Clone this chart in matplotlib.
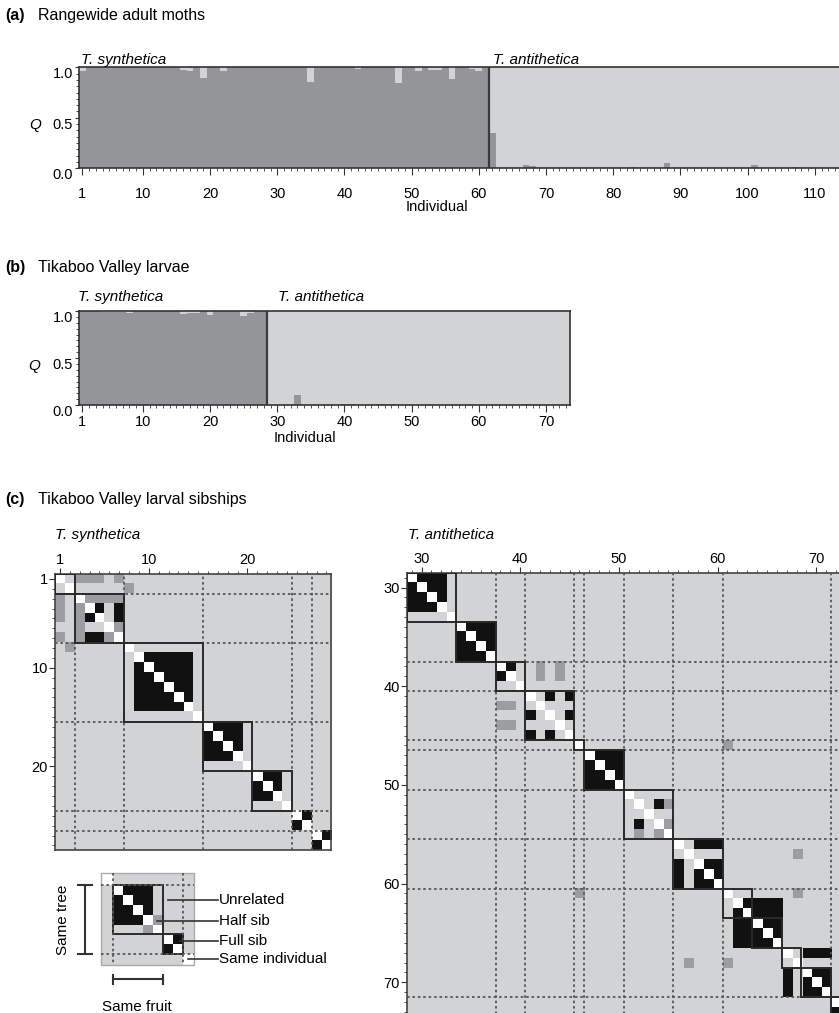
import numpy as np
import matplotlib.pyplot as plt
from matplotlib.colors import ListedColormap
from matplotlib.patches import Rectangle
from matplotlib.ticker import MultipleLocator

W, H = 839, 1013
plt.rcParams['font.family'] = ['Liberation Sans', 'DejaVu Sans']

DARK = '#949598'
LIGHT = '#d2d3d5'
HALF = '#9c9da0'
FULL = '#111111'
SPINE = '#333333'

# (a) rangewide adult moths, Q = share of the T. synthetica cluster
adult_n = 115
adult_split = 61
adult_ids = [1, 16, 17, 19, 22, 35, 42, 48, 51, 53, 54, 56, 59, 60,
             62, 67, 68, 83, 88, 101, 107]
adult_q = [0.96, 0.97, 0.96, 0.89, 0.96, 0.85, 0.98, 0.84, 0.96, 0.97, 0.97, 0.88, 0.98, 0.96,
           0.35, 0.03, 0.02, 0.015, 0.05, 0.03, 0.015]
adult_ticks = [1, 10, 20, 30, 40, 50, 60, 70, 80, 90, 100, 110]

# (b) Tikaboo Valley larvae
larva_n = 73
larva_split = 28
larva_ids = [4, 5, 6, 7, 8, 16, 17, 18, 20, 25, 26, 33, 40, 41, 45, 46, 47, 67]
larva_q = [0.99, 0.99, 0.99, 0.99, 0.975, 0.97, 0.975, 0.975, 0.96, 0.95, 0.98,
           0.11, 0.01, 0.01, 0.01, 0.01, 0.01, 0.01]
larva_ticks = [1, 10, 20, 30, 40, 50, 60, 70]

# (c) sibships: 0 unrelated, 1 half sib, 2 full sib, 3 same individual
syn_range = (1, 28)
syn_full = [[4, 5, 7], [9, 10, 11, 12, 13, 14], [16, 17, 18, 19], [21, 22, 23], [25, 26], [27, 28]]
syn_half = [(1, 3), (1, 4), (1, 5), (1, 7), (2, 8), (3, 4), (3, 5), (3, 6), (3, 7), (6, 7)]
syn_trees = [2, 7, 15, 24, 26]
syn_fruits = [(1, 2), (3, 7), (8, 15), (16, 20), (21, 24)]
syn_ticks = [1, 10, 20]

ant_range = (29, 73)
ant_full = [[29, 30, 31, 32], [34, 35, 36, 37], [38, 39], [41, 43, 45], [47, 48, 49, 50],
            [52, 54], [56, 58, 59, 60], [62, 63, 64, 65, 66], [67, 69, 70, 71], [72, 73]]
ant_half = [(38, 42), (39, 42), (38, 44), (39, 44), (52, 55), (54, 55), (46, 61), (57, 68), (61, 68)]
ant_trees = [37, 40, 45, 46, 50, 55, 60, 71]
ant_fruits = [(29, 33), (34, 37), (38, 40), (41, 45), (46, 46), (47, 50), (51, 55), (56, 60),
              (61, 63), (64, 66), (67, 68), (69, 71), (72, 73)]
ant_ticks = [30, 40, 50, 60, 70]

# legend schematic
leg_size = 9
leg_full = [[1, 2, 3, 4], [6, 7]]
leg_half = [(4, 5)]
leg_trees = [0, 7]
leg_fruits = [(1, 5), (6, 7)]
leg_edges_x = [101, 113.3, 123.2, 133.1, 143.0, 152.9, 162.7, 172.7, 182.7, 194.3]
leg_edges_y = [872.7, 885, 894.9, 904.8, 914.7, 924.6, 934.3, 944.3, 954.3, 965]
leg_labels = ['Unrelated', 'Half sib', 'Full sib', 'Same individual']

fig = plt.figure(figsize=(W / 100, H / 100), dpi=100)


def px_axes(x0, y0, x1, y1):
    return fig.add_axes([x0 / W, 1 - y1 / H, (x1 - x0) / W, (y1 - y0) / H])


def relmatrix(first, last, full, half):
    n = last - first + 1
    m = np.zeros((n, n))
    for g in full:
        for a in g:
            for b in g:
                m[a - first, b - first] = 2
    for a, b in half:
        m[a - first, b - first] = 1
        m[b - first, a - first] = 1
    np.fill_diagonal(m, 3)
    return m


cmap = ListedColormap([LIGHT, HALF, FULL, 'white'])


def structure(ax, n, split, ids, q, ticks, xpad):
    ind = np.arange(1, n + 1)
    qq = np.where(ind <= split, 1.0, 0.0)
    for i, v in zip(ids, q):
        qq[i - 1] = v
    ax.bar(ind, qq, width=1.0, color=DARK, lw=0)
    ax.bar(ind, 1 - qq, bottom=qq, width=1.0, color=LIGHT, lw=0)
    ax.axvline(split + 0.5, color='#3a3a3a', lw=1.6)
    ax.set_xlim(0.5, n + 0.5)
    ax.set_ylim(0, 1)
    ax.set_xticks(ticks)
    ax.xaxis.set_minor_locator(MultipleLocator(1))
    ax.set_yticks([0, 0.5, 1.0])
    ax.set_yticklabels(['0.0', '0.5', '1.0'])
    ax.yaxis.set_minor_locator(MultipleLocator(0.0625))
    ax.tick_params(which='both', direction='out', labelsize=10.5, color='#333333')
    ax.tick_params(axis='x', which='major', length=5, pad=xpad)
    ax.tick_params(axis='x', which='minor', length=2.5)
    ax.tick_params(axis='y', which='major', length=3, pad=1.5)
    ax.tick_params(axis='y', which='minor', length=2.5)
    for lab in ax.get_yticklabels():
        lab.set_verticalalignment('top')
    for s in ax.spines.values():
        s.set_color(SPINE)
        s.set_linewidth(1.2)


def sibmatrix(ax, rng, full, half, trees, fruits, ticks):
    first, last = rng
    m = relmatrix(first, last, full, half)
    ax.imshow(m, cmap=cmap, vmin=-0.5, vmax=3.5, interpolation='nearest', aspect='auto',
              extent=(first - 0.5, last + 0.5, last + 0.5, first - 0.5))
    for t in trees:
        ax.axvline(t + 0.5, color='#555555', lw=1.3, ls=(0, (1.4, 1.6)), zorder=3)
        ax.axhline(t + 0.5, color='#555555', lw=1.3, ls=(0, (1.4, 1.6)), zorder=3)
    for a, b in fruits:
        ax.add_patch(Rectangle((a - 0.5, a - 0.5), b - a + 1, b - a + 1, fill=False,
                               ec='#2a2a2a', lw=1.4, zorder=4))
    ax.set_xlim(first - 0.5, last + 0.5)
    ax.set_ylim(last + 0.5, first - 0.5)
    ax.xaxis.tick_top()
    ax.set_xticks(ticks)
    ax.set_yticks(ticks)
    ax.xaxis.set_minor_locator(MultipleLocator(1))
    ax.yaxis.set_minor_locator(MultipleLocator(1))
    ax.tick_params(which='both', direction='out', labelsize=10.5, color='#333333', pad=1)
    ax.tick_params(which='major', length=4)
    ax.tick_params(which='minor', length=2.5)
    for s in ax.spines.values():
        s.set_color('#444444')
        s.set_linewidth(1.2)


# panel (a)
ax_a = px_axes(79, 67.3, 79 + adult_n * 6.72, 168.3)
structure(ax_a, adult_n, adult_split, adult_ids, adult_q, adult_ticks, 8.5)

# panel (b)
ax_b = px_axes(79, 311, 79 + larva_n * 6.72, 405)
structure(ax_b, larva_n, larva_split, larva_ids, larva_q, larva_ticks, 2.5)

# panel (c)
cell = 9.87
ax_s = px_axes(55, 574, 55 + 28 * cell, 574 + 28 * cell)
sibmatrix(ax_s, syn_range, syn_full, syn_half, syn_trees, syn_fruits, syn_ticks)
ax_t = px_axes(406.7, 572.7, 406.7 + 45 * cell, 572.7 + 45 * cell)
sibmatrix(ax_t, ant_range, ant_full, ant_half, ant_trees, ant_fruits, ant_ticks)

# overlay in pixel coordinates for text and the legend schematic
ov = fig.add_axes([0, 0, 1, 1])
ov.set_xlim(0, W)
ov.set_ylim(H, 0)
ov.axis('off')

ov.text(5, 15, '(a)', fontsize=11.5, fontweight='bold', va='center')
ov.text(38, 15, 'Rangewide adult moths', fontsize=11.5, va='center')
ov.text(5, 267, '(b)', fontsize=11.5, fontweight='bold', va='center')
ov.text(38, 267, 'Tikaboo Valley larvae', fontsize=11.5, va='center')
ov.text(5, 499, '(c)', fontsize=11.5, fontweight='bold', va='center')
ov.text(38, 499, 'Tikaboo Valley larval sibships', fontsize=11.5, va='center')

for x, y, s in [(81, 60, 'T. synthetica'), (493, 60, 'T. antithetica'),
                (78, 297, 'T. synthetica'), (278, 297, 'T. antithetica'),
                (55, 535, 'T. synthetica'), (408, 535, 'T. antithetica')]:
    ov.text(x, y, s, fontsize=11, style='italic', va='center')

ov.text(35, 125, 'Q', fontsize=11, style='italic', ha='center', va='center')
ov.text(34, 366, 'Q', fontsize=11, style='italic', ha='center', va='center')
ov.text(437, 207, 'Individual', fontsize=10.5, ha='center', va='center')
ov.text(305, 438, 'Individual', fontsize=10.5, ha='center', va='center')

# legend schematic
lm = relmatrix(0, leg_size - 1, leg_full, leg_half)
ov.pcolormesh(leg_edges_x, leg_edges_y, lm, cmap=cmap, vmin=-0.5, vmax=3.5)
ov.add_patch(Rectangle((leg_edges_x[0], leg_edges_y[0]), leg_edges_x[-1] - leg_edges_x[0],
                       leg_edges_y[-1] - leg_edges_y[0], fill=False, ec='#aaaaaa', lw=1))
for t in leg_trees:
    ov.plot([leg_edges_x[t + 1]] * 2, [leg_edges_y[0], leg_edges_y[-1]], color='#555555',
            lw=1.3, ls=(0, (1.4, 1.6)))
    ov.plot([leg_edges_x[0], leg_edges_x[-1]], [leg_edges_y[t + 1]] * 2, color='#555555',
            lw=1.3, ls=(0, (1.4, 1.6)))
for a, b in leg_fruits:
    ov.add_patch(Rectangle((leg_edges_x[a], leg_edges_y[a]), leg_edges_x[b + 1] - leg_edges_x[a],
                           leg_edges_y[b + 1] - leg_edges_y[a], fill=False, ec='#2a2a2a', lw=1.4))

leader_start = [168.3, 156.7, 180, 188.3]
leader_y = [900, 920.7, 940.7, 959.3]
for x0, y, s in zip(leader_start, leader_y, leg_labels):
    ov.plot([x0, 218], [y, y], color='#333333', lw=1.2)
    ov.text(219, y, s, fontsize=11, va='center')

ov.plot([85, 85], [885, 954.3], color='#333333', lw=1.5)
ov.plot([78.3, 91.7], [885, 885], color='#333333', lw=1.5)
ov.plot([78.3, 91.7], [954.3, 954.3], color='#333333', lw=1.5)
ov.text(63.3, 920, 'Same tree', fontsize=11, rotation=90, ha='center', va='center')
ov.plot([113.3, 163.3], [979.3, 979.3], color='#333333', lw=1.5)
ov.plot([113.3, 113.3], [975, 984], color='#333333', lw=1.5)
ov.plot([163.3, 163.3], [975, 984], color='#333333', lw=1.5)
ov.text(136.7, 1006.7, 'Same fruit', fontsize=11, ha='center', va='center')

fig.savefig('out.png', dpi=100)
